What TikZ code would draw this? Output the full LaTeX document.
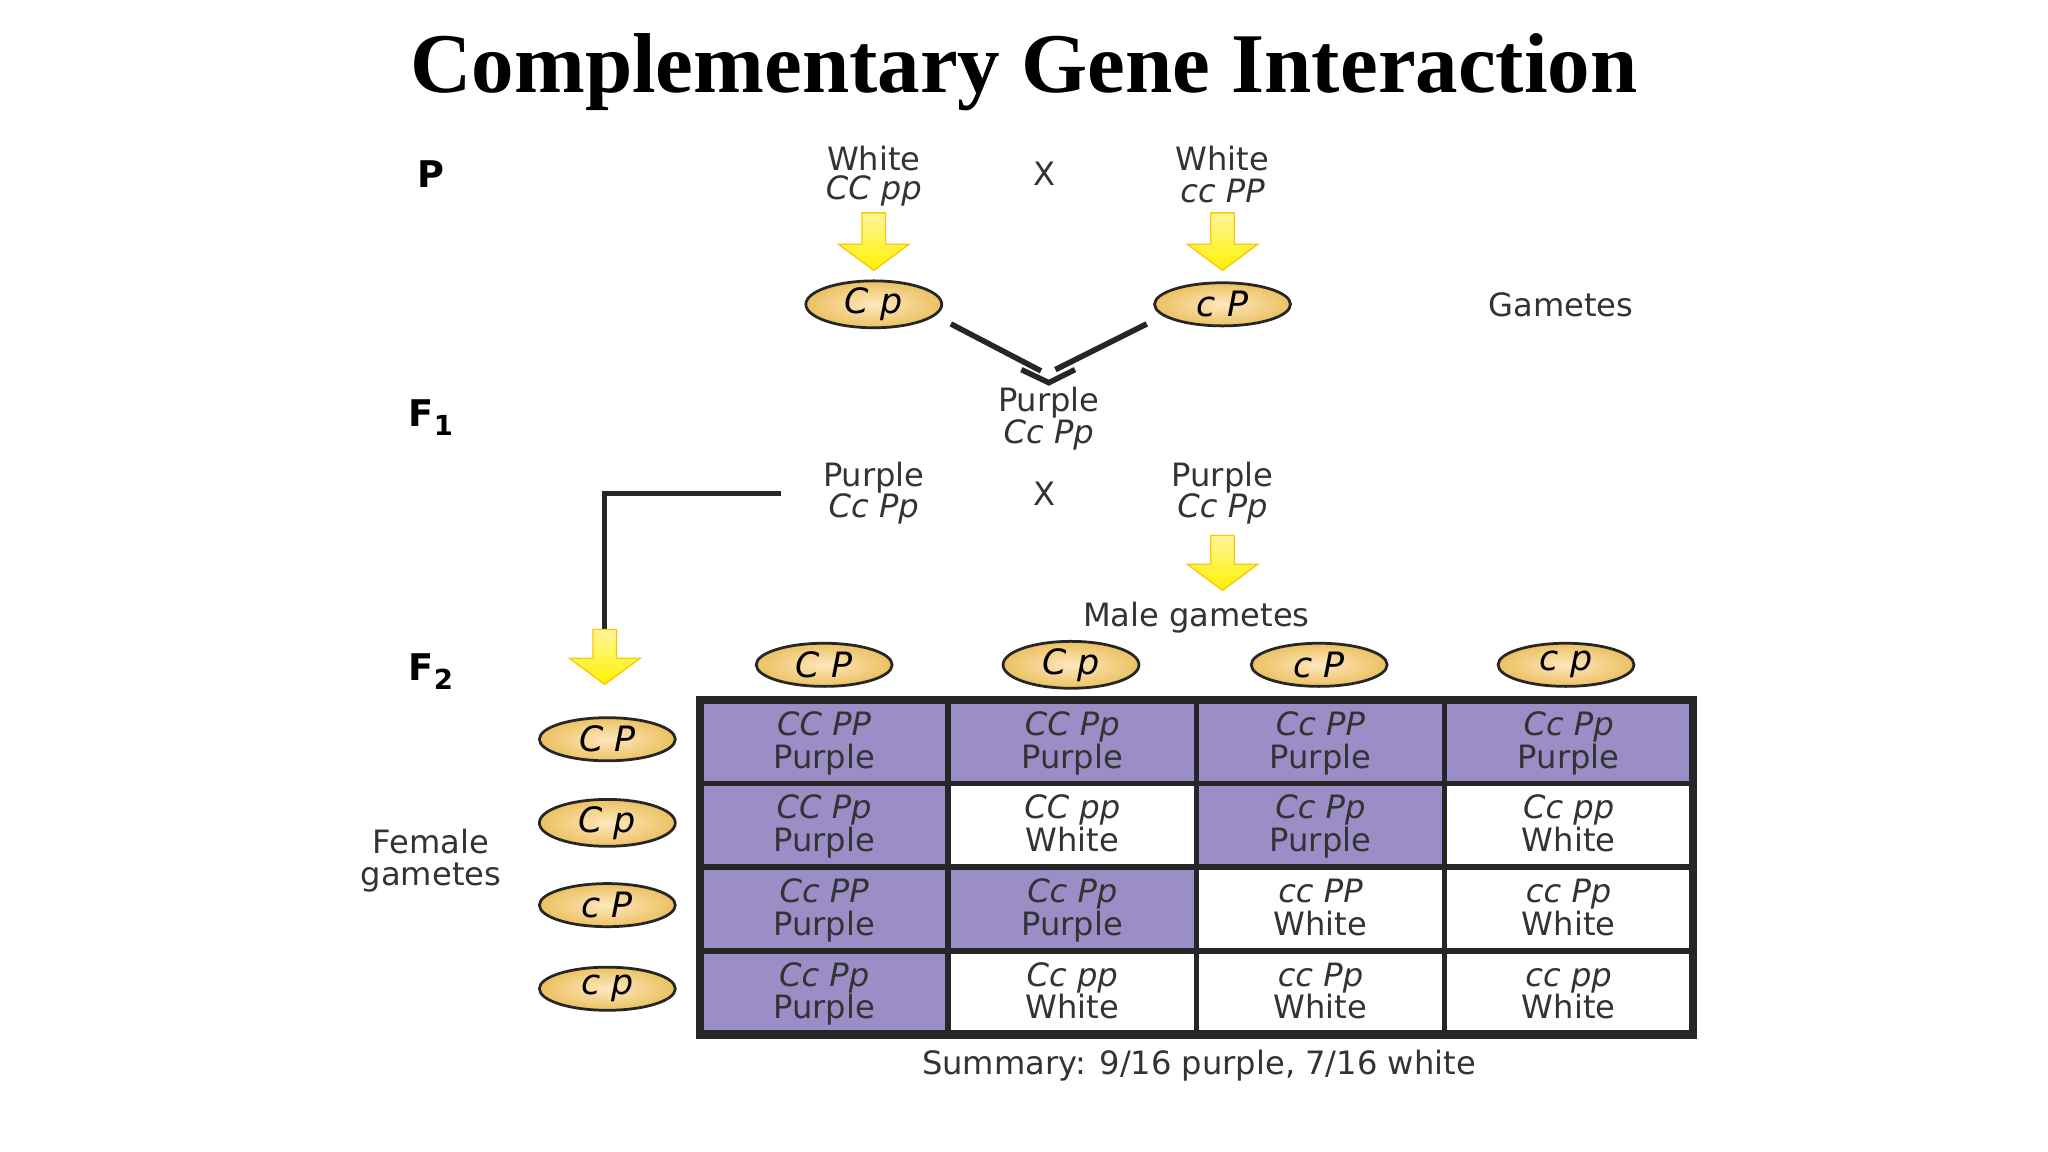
\documentclass[tikz,border=0pt]{standalone}
\usepackage{fontspec}
\setmainfont{Liberation Serif}
\newfontfamily\lab{DejaVu Sans}
\usetikzlibrary{shapes.geometric}
\begin{document}
\begin{tikzpicture}[x=0.01cm,y=-0.01cm,
  txt/.style={font=\lab\fontsize{7pt}{8pt}\selectfont,text=black!80,align=center,inner sep=0},
  gen/.style={font=\lab\itshape\fontsize{7pt}{8pt}\selectfont,text=black!80,inner sep=0},
  gam/.style={ellipse,draw=black!85,line width=0.6pt,minimum width=1.04cm,minimum height=0.33cm,inner sep=0,
    inner color=yellow!25!orange!25,outer color=orange!45!yellow!55!brown!70,
    font=\lab\itshape\fontsize{7.6pt}{8pt}\selectfont},
  cell/.style={draw=black!85,line width=1.2pt,minimum width=1.9cm,minimum height=0.64cm,inner sep=0},
  pur/.style={cell,fill=purplecell},
  wht/.style={cell,fill=white},
  lbl/.style={font=\lab\bfseries\fontsize{8pt}{9pt}\selectfont,inner sep=0}]
\definecolor{purplecell}{RGB}{155,141,198}
\useasboundingbox (0,0) rectangle (1568,882);
\newcommand\yarrow[3]{% x, ytop, ybottom
  \shade[top color=yellow!80!orange!40,bottom color=yellow!90!orange,draw=yellow!60!orange,line width=0.3pt]
   (#1-9,#2) -- (#1+9,#2) -- (#1+9,#3-20) -- (#1+27,#3-20) -- (#1,#3) -- (#1-27,#3-20) -- (#1-9,#3-20) -- cycle;}

\node[font=\bfseries\fontsize{18.5pt}{22pt}\selectfont] (title) at (784,55) {Complementary Gene Interaction};

\node[lbl] (p) at (330,133) {P};
\node[lbl] (f1) at (330,320) {F\raisebox{-2pt}{\fontsize{6pt}{6pt}\selectfont 1}};
\node[lbl] (f2) at (330,514) {F\raisebox{-2pt}{\fontsize{6pt}{6pt}\selectfont 2}};

% P generation
\node[txt] (w1) at (669,121) {White};
\node[gen] (g1) at (669,146) {CC pp};
\node[txt] (x1) at (800,133) {X};
\node[txt] (w2) at (936,121) {White};
\node[gen] (g2) at (936,146) {cc PP};
\yarrow{669}{163}{207}
\yarrow{936}{163}{207}
\node[gam] (e1) at (669,233) {C p};
\node[gam] (e2) at (936,233) {c P};
\node[txt] (gt) at (1195,233) {Gametes};

% merge
\draw[line width=1.2pt,black!85] (728,248) -- (797,284);
\draw[line width=1.2pt,black!85] (878,248) -- (808,283);
\draw[line width=1.2pt,black!85] (782,283) -- (803,293) -- (823,283);

% F1
\node[txt] (f1p) at (803,308) {Purple};
\node[gen] (f1g) at (803,333) {Cc Pp};
\node[txt] (ap) at (669,366) {Purple};
\node[gen] (ag) at (669,390) {Cc Pp};
\node[txt] (x2) at (800,378) {X};
\node[txt] (bp) at (936,366) {Purple};
\node[gen] (bg) at (936,390) {Cc Pp};
\coordinate (c1) at (598,378);
\coordinate (c2) at (463,378);
\coordinate (c3) at (463,484);
\draw[line width=1.2pt,black!85] (c1) -- (c2) -- (c3);
\yarrow{463}{482}{524}
\yarrow{936}{410}{452}
\node[txt] (mg) at (916,473) {Male gametes};

% male gametes
\node[gam] (m1) at (631,509) {C P};
\node[gam] (m2) at (820,509) {C p};
\node[gam] (m3) at (1010,509) {c P};
\node[gam] (m4) at (1199,509) {c p};
% female gametes
\node[gam] (fa) at (465,566) {C P};
\node[gam] (fb) at (465,630) {C p};
\node[gam] (fc) at (465,693) {c P};
\node[gam] (fd) at (465,757) {c p};
\node[txt] (fg) at (330,659) {Female\\[-1pt]gametes};

% Punnett square
\foreach \r/\y in {1/568,2/632,3/696,4/760}{
  \foreach \c/\x in {1/631,2/821,3/1011,4/1201}{
    \coordinate (q\r\c) at (\x,\y);
  }
}
\foreach \r/\c/\s/\g/\ph in {
  1/1/pur/CC PP/Purple, 1/2/pur/CC Pp/Purple, 1/3/pur/Cc PP/Purple, 1/4/pur/Cc Pp/Purple,
  2/1/pur/CC Pp/Purple, 2/2/wht/CC pp/White,  2/3/pur/Cc Pp/Purple, 2/4/wht/Cc pp/White,
  3/1/pur/Cc PP/Purple, 3/2/pur/Cc Pp/Purple, 3/3/wht/cc PP/White,  3/4/wht/cc Pp/White,
  4/1/pur/Cc Pp/Purple, 4/2/wht/Cc pp/White,  4/3/wht/cc Pp/White,  4/4/wht/cc pp/White}{
  \node[\s] (k\r\c) at (q\r\c) {};
  \node[gen,anchor=base] (kg\r\c) at ([yshift=0.05cm]q\r\c) {\g};
  \node[txt,anchor=base] (kp\r\c) at ([yshift=-0.2cm]q\r\c) {\ph};
}
\draw[line width=1.8pt,black!85] (536,536) rectangle (1296,792);

\node[txt] (sum) at (918,816) {Summary: 9/16 purple, 7/16 white};
\end{tikzpicture}
\end{document}
